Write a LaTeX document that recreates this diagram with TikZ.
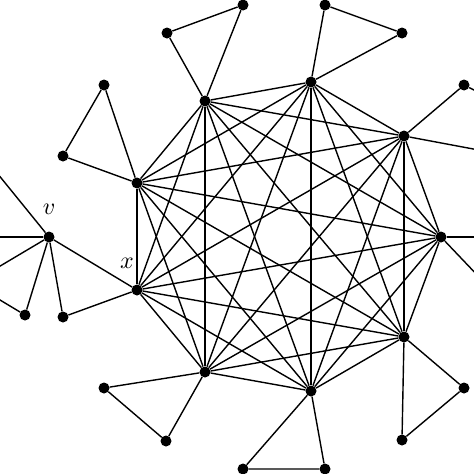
\documentclass[tikz,border=0pt]{standalone}
\begin{document}
\begin{tikzpicture}[x=1pt,y=-1pt,
  dot/.style={circle,fill=black,inner sep=0pt,minimum size=11pt},
  edge/.style={line width=1.4pt,black},
  lab/.style={scale=2.4}]
\useasboundingbox (0,0) rectangle (474,474);
\clip (0,0) rectangle (474,474);
% central K9
\node[dot] (A) at (205,101) {};
\node[dot] (B) at (311,82) {};
\node[dot] (C) at (404,136) {};
\node[dot] (D) at (441,237) {};
\node[dot] (E) at (404,337) {};
\node[dot] (F) at (311,391) {};
\node[dot] (G) at (205,372) {};
\node[dot] (H) at (137,290) {};
\node[dot] (I) at (137,183) {};
% outer
\node[dot] (a1) at (167,33) {};
\node[dot] (a2) at (243,5) {};
\node[dot] (b1) at (325,5) {};
\node[dot] (b2) at (402,33) {};
\node[dot] (c1) at (464,85) {};
\node[dot] (e1) at (464,388) {};
\node[dot] (e2) at (402,440) {};
\node[dot] (f1) at (243,469) {};
\node[dot] (f2) at (325,469) {};
\node[dot] (g1) at (104,388) {};
\node[dot] (g2) at (166,441) {};
\node[dot] (h1) at (63,317) {};
\node[dot] (v) at (49,237) {};
\node[dot] (v1) at (25,315) {};
\node[dot] (i1) at (104,85) {};
\node[dot] (i2) at (63,156) {};
% off-canvas ends
\coordinate (o1) at (490,98);
\coordinate (o2) at (500,154);
\coordinate (o3) at (500,237);
\coordinate (o4) at (500,299);
\coordinate (o5) at (-20,152);
\coordinate (o6) at (-20,237);
\coordinate (o7) at (-20,278);
\coordinate (o8) at (-20,288);
% labels
\node[lab] (lv) at (49,209) {$v$};
\node[lab] (lx) at (127,263) {$x$};
% K9 edges
\foreach \p/\q in {A/B,A/C,A/D,A/E,A/F,A/G,A/H,A/I,
  B/C,B/D,B/E,B/F,B/G,B/H,B/I,
  C/D,C/E,C/F,C/G,C/H,C/I,
  D/E,D/F,D/G,D/H,D/I,
  E/F,E/G,E/H,E/I,
  F/G,F/H,F/I,
  G/H,G/I,
  H/I}
  \draw[edge] (\p) -- (\q);
% triangles and pendants
\draw[edge] (A) -- (a1) -- (a2) -- (A);
\draw[edge] (B) -- (b1) -- (b2) -- (B);
\draw[edge] (C) -- (c1) -- (o1);
\draw[edge] (C) -- (o2);
\draw[edge] (D) -- (o3);
\draw[edge] (D) -- (o4);
\draw[edge] (E) -- (e1) -- (e2) -- (E);
\draw[edge] (F) -- (f1) -- (f2) -- (F);
\draw[edge] (G) -- (g1) -- (g2) -- (G);
\draw[edge] (H) -- (h1) -- (v) -- (H);
\draw[edge] (v) -- (v1) -- (o8);
\draw[edge] (v) -- (o5);
\draw[edge] (v) -- (o6);
\draw[edge] (v) -- (o7);
\draw[edge] (I) -- (i1) -- (i2) -- (I);
\end{tikzpicture}
\end{document}
